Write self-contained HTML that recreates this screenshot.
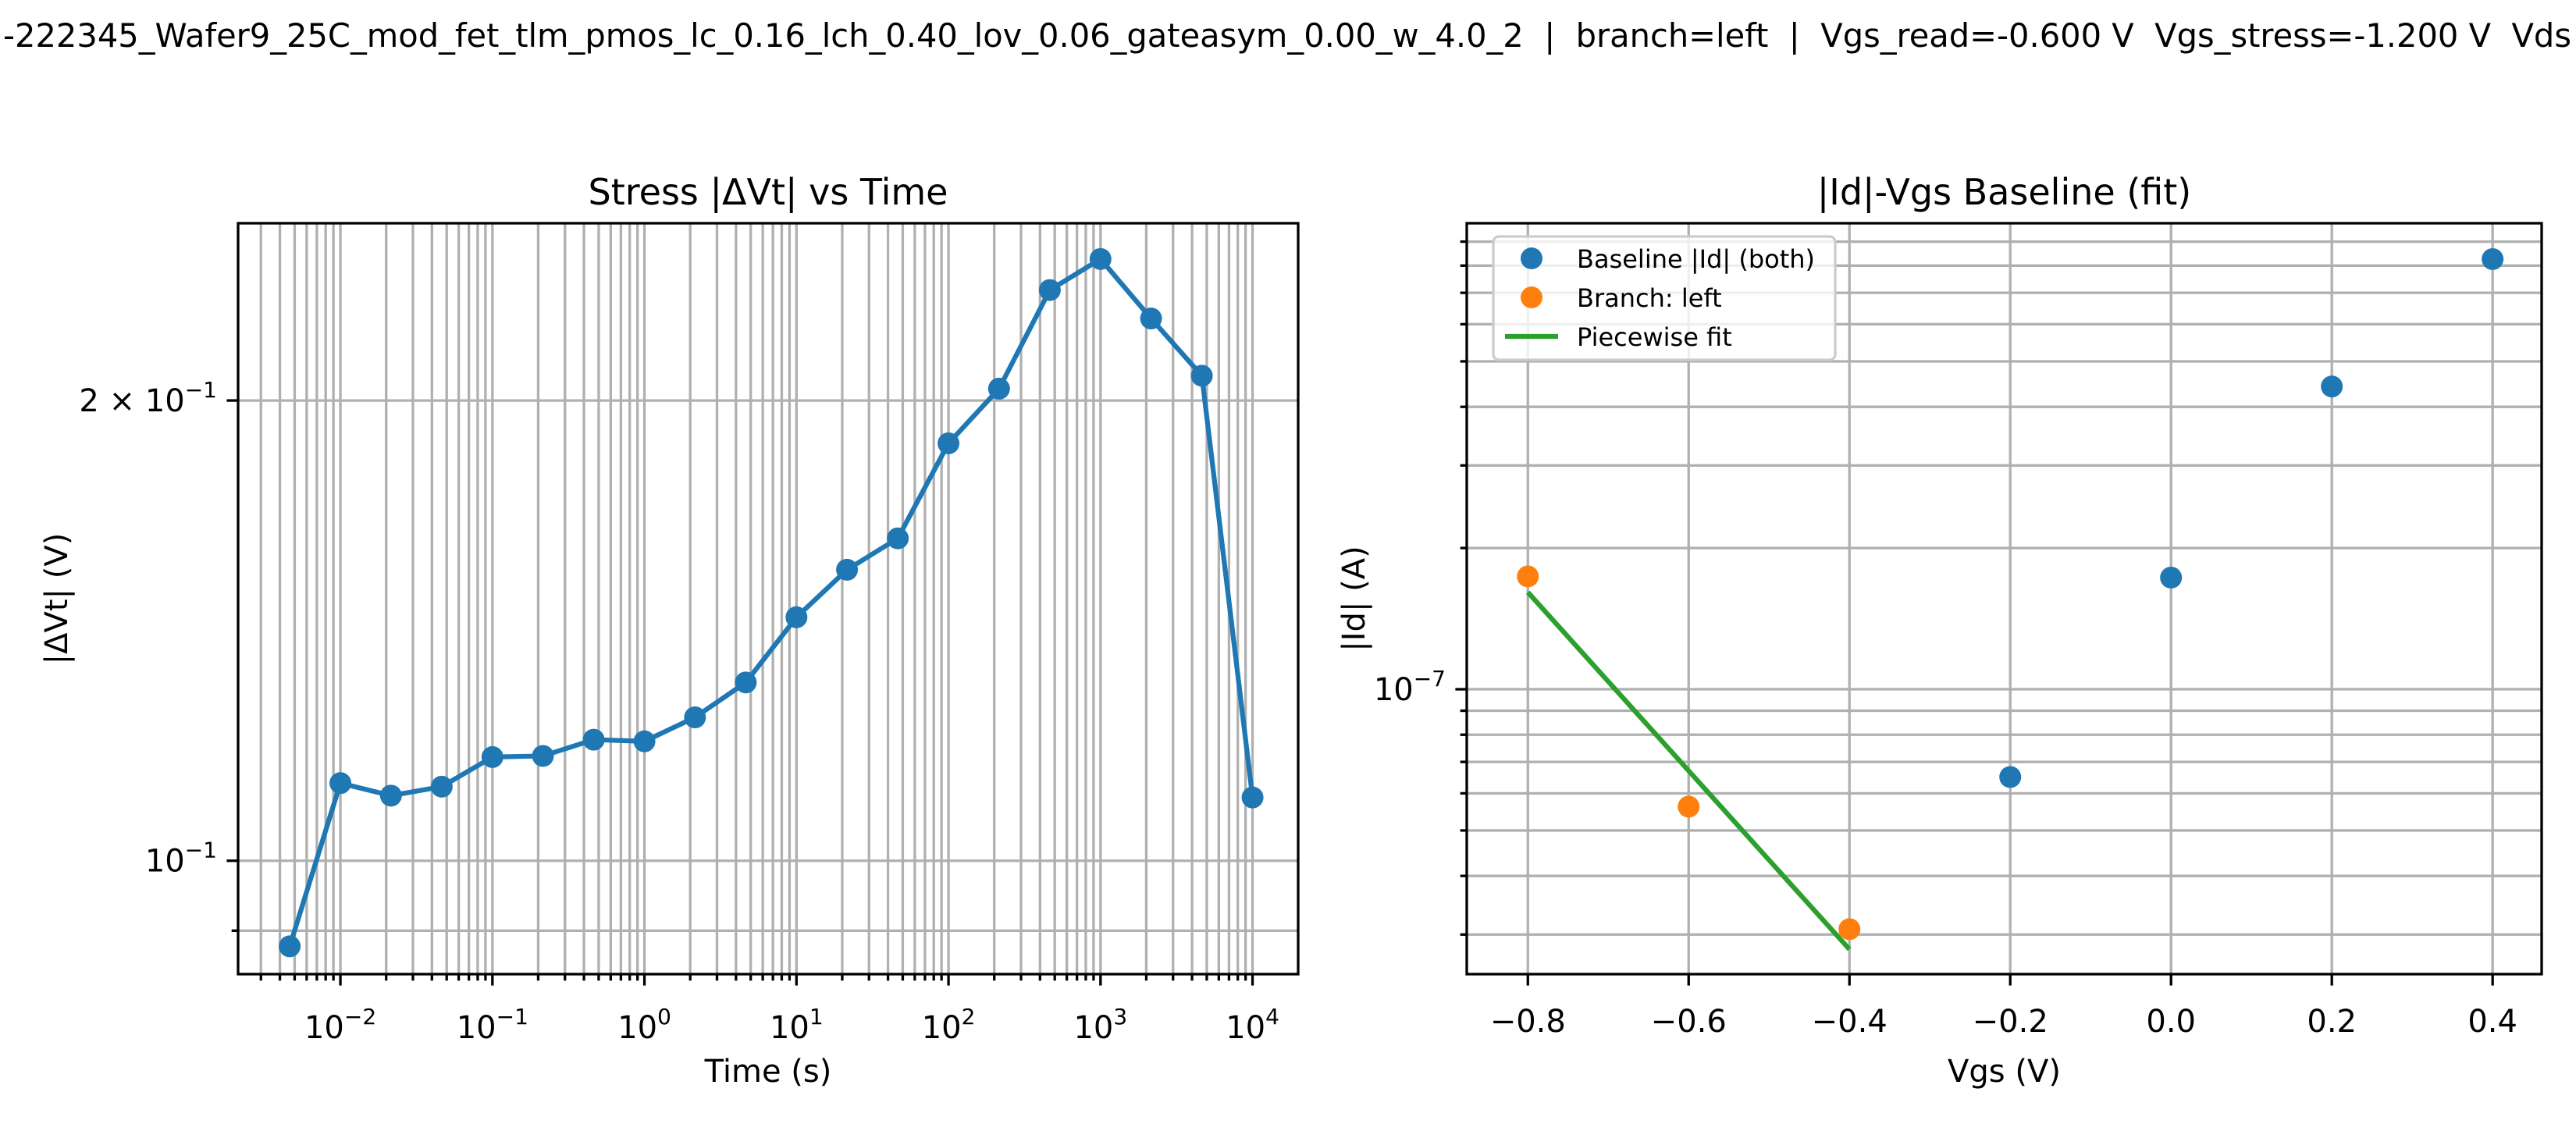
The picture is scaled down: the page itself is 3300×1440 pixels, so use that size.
<!DOCTYPE html>
<html><head><meta charset="utf-8"><style>html,body{margin:0;padding:0;background:#fff;}svg{display:block;}</style></head>
<body>
<svg id="fig" xmlns="http://www.w3.org/2000/svg" width="3300" height="1440" viewBox="0 0 3300 1440" font-family="DejaVu Sans, Liberation Sans, sans-serif">
<rect width="3300" height="1440" fill="#fff"/>
<text x="4" y="60" font-size="42" textLength="3290" lengthAdjust="spacingAndGlyphs" style="white-space:pre" xml:space="preserve">-222345_Wafer9_25C_mod_fet_tlm_pmos_lc_0.16_lch_0.40_lov_0.06_gateasym_0.00_w_4.0_2  |  branch=left  |  Vgs_read=-0.600 V  Vgs_stress=-1.200 V  Vds</text>
<g id="left"></g>
<g id="right"></g>
</svg>
<script>
// ---- Left chart data ----
const stressTimes = [0.00464, 0.01, 0.0215, 0.0464, 0.1, 0.215, 0.464, 1, 2.15, 4.64, 10, 21.5, 46.4, 100, 215, 464, 1000, 2150, 4640, 10000];
const dvtValues = [0.0879, 0.1124, 0.1103, 0.1118, 0.1169, 0.1171, 0.1200, 0.1197, 0.1241, 0.1308, 0.1443, 0.1550, 0.1625, 0.1875, 0.2036, 0.2362, 0.2475, 0.2263, 0.2076, 0.1100];
const leftXDecades = [-2, -1, 0, 1, 2, 3, 4];
const leftYMajor = [0.1, 0.2];
const leftYMajorLabels = [["10", "−1"], ["2 × 10", "−1"]];
const leftYMinor = [0.09];
// ---- Right chart data ----
const baseVgs = [-0.2, 0.0, 0.2, 0.4];
const baseId = [6.5e-8, 1.73e-7, 4.42e-7, 8.26e-7];
const branchVgs = [-0.8, -0.6, -0.4];
const branchId = [1.74e-7, 5.62e-8, 3.08e-8];
const fitVgs = [-0.8, -0.4];
const fitId = [1.61e-7, 2.79e-8];
const rightXTicks = [-0.8, -0.6, -0.4, -0.2, 0.0, 0.2, 0.4];
const rightXLabels = ["−0.8", "−0.6", "−0.4", "−0.2", "0.0", "0.2", "0.4"];
const rightYMinor = [3e-8, 4e-8, 5e-8, 6e-8, 7e-8, 8e-8, 9e-8, 2e-7, 3e-7, 4e-7, 5e-7, 6e-7, 7e-7, 8e-7, 9e-7];

const NS = "http://www.w3.org/2000/svg";
function mk(parent, tag, attrs, text) {
  const e = document.createElementNS(NS, tag);
  for (const k in attrs) e.setAttribute(k, attrs[k]);
  if (text !== undefined) e.textContent = text;
  parent.appendChild(e);
  return e;
}
const GRID = "#b0b0b0", BLUE = "#1f77b4", ORANGE = "#ff7f0e", GREEN = "#2ca02c";
const MR = 14;

// ---------- LEFT ----------
const L = {x0: 305, x1: 1663, y0: 286, y1: 1248, lx0: -2.673, lx1: 4.30, ly0: Math.log10(0.0843), ly1: Math.log10(0.2612)};
function xL(t) { return L.x0 + (Math.log10(t) - L.lx0) / (L.lx1 - L.lx0) * (L.x1 - L.x0); }
function yL(v) { return L.y0 + (L.ly1 - Math.log10(v)) / (L.ly1 - L.ly0) * (L.y1 - L.y0); }
const gl = document.getElementById('left');
for (let d = -3; d <= 4; d++) {
  for (let s = 1; s <= 9; s++) {
    const t = s * Math.pow(10, d);
    const lx = Math.log10(t);
    if (lx < L.lx0 || lx > L.lx1) continue;
    const x = xL(t);
    const g = mk(gl, 'line', {x1: x, x2: x, y1: L.y0, y2: L.y1, stroke: GRID, 'stroke-width': 3.3});
    
    
    const tk = mk(gl, 'line', {x1: x, x2: x, y1: L.y1, y2: L.y1 + (s === 1 ? 14.6 : 8.3), stroke: '#000', 'stroke-width': 3.3});
    
    
  }
}
leftYMajor.concat(leftYMinor).forEach((v, i) => {
  const y = yL(v);
  const g = mk(gl, 'line', {x1: L.x0, x2: L.x1, y1: y, y2: y, stroke: GRID, 'stroke-width': 3.3});
  
  
  const tk = mk(gl, 'line', {x1: L.x0 - (i < leftYMajor.length ? 14.6 : 8.3), x2: L.x0, y1: y, y2: y, stroke: '#000', 'stroke-width': 3.3});
  
  
});
leftXDecades.forEach(d => {
  const x = xL(Math.pow(10, d));
  const t = mk(gl, 'text', {x: x, y: 1330, 'font-size': 40, 'text-anchor': 'middle'});
  
  
  mk(t, 'tspan', {}, '10');
  mk(t, 'tspan', {dy: -18, 'font-size': 28}, d < 0 ? '−' + (-d) : String(d));
});
leftYMajor.forEach((v, i) => {
  const y = yL(v);
  const t = mk(gl, 'text', {x: 278, y: y + 14, 'font-size': 40, 'text-anchor': 'end'});
  
  
  mk(t, 'tspan', {}, leftYMajorLabels[i][0]);
  mk(t, 'tspan', {dy: -18, 'font-size': 28}, leftYMajorLabels[i][1]);
});
const pts = stressTimes.map((t, i) => xL(t) + ',' + yL(dvtValues[i])).join(' ');
const ln = mk(gl, 'polyline', {points: pts, fill: 'none', stroke: BLUE, 'stroke-width': 6.25, 'stroke-linejoin': 'round'});


stressTimes.forEach((t, i) => {
  const c = mk(gl, 'circle', {cx: xL(t), cy: yL(dvtValues[i]), r: MR, fill: BLUE});
  
  
});
const fr = mk(gl, 'rect', {x: L.x0, y: L.y0, width: L.x1 - L.x0, height: L.y1 - L.y0, fill: 'none', stroke: '#000', 'stroke-width': 3.3});


let tt = mk(gl, 'text', {x: (L.x0 + L.x1) / 2, y: 262, 'font-size': 46, 'text-anchor': 'middle'}, 'Stress |ΔVt| vs Time');


tt = mk(gl, 'text', {x: (L.x0 + L.x1) / 2, y: 1386, 'font-size': 40, 'text-anchor': 'middle'}, 'Time (s)');


tt = mk(gl, 'text', {x: 0, y: 0, 'font-size': 40, 'text-anchor': 'middle', transform: 'translate(86,767) rotate(-90)'}, '|ΔVt| (V)');



// ---------- RIGHT ----------
const R = {x0: 1879, x1: 3256, y0: 286, y1: 1248, vx0: -0.876, vx1: 0.461, ly0: Math.log10(2.47e-8), ly1: Math.log10(9.85e-7)};
function xR(v) { return R.x0 + (v - R.vx0) / (R.vx1 - R.vx0) * (R.x1 - R.x0); }
function yR(i) { return R.y0 + (R.ly1 - Math.log10(i)) / (R.ly1 - R.ly0) * (R.y1 - R.y0); }
const gr = document.getElementById('right');
rightXTicks.forEach((v, i) => {
  const x = xR(v);
  let g = mk(gr, 'line', {x1: x, x2: x, y1: R.y0, y2: R.y1, stroke: GRID, 'stroke-width': 3.3});
  
  
  g = mk(gr, 'line', {x1: x, x2: x, y1: R.y1, y2: R.y1 + 14.6, stroke: '#000', 'stroke-width': 3.3});
  
  
  const t = mk(gr, 'text', {x: x, y: 1322, 'font-size': 40, 'text-anchor': 'middle'}, rightXLabels[i]);
  
  
});
[1e-7].concat(rightYMinor).forEach((v, i) => {
  const y = yR(v);
  let g = mk(gr, 'line', {x1: R.x0, x2: R.x1, y1: y, y2: y, stroke: GRID, 'stroke-width': 3.3});
  
  
  g = mk(gr, 'line', {x1: R.x0 - (i === 0 ? 14.6 : 8.3), x2: R.x0, y1: y, y2: y, stroke: '#000', 'stroke-width': 3.3});
  
  
});
let yt = mk(gr, 'text', {x: 1852, y: yR(1e-7) + 14, 'font-size': 40, 'text-anchor': 'end'});


mk(yt, 'tspan', {}, '10');
mk(yt, 'tspan', {dy: -18, 'font-size': 28}, '−7');
const fp = fitVgs.map((v, i) => xR(v) + ',' + yR(fitId[i])).join(' ');
const fl = mk(gr, 'polyline', {points: fp, fill: 'none', stroke: GREEN, 'stroke-width': 6.25});


baseVgs.forEach((v, i) => {
  const c = mk(gr, 'circle', {cx: xR(v), cy: yR(baseId[i]), r: MR, fill: BLUE});
  
  
});
branchVgs.forEach((v, i) => {
  const c = mk(gr, 'circle', {cx: xR(v), cy: yR(branchId[i]), r: MR, fill: ORANGE});
  
  
});
const fr2 = mk(gr, 'rect', {x: R.x0, y: R.y0, width: R.x1 - R.x0, height: R.y1 - R.y0, fill: 'none', stroke: '#000', 'stroke-width': 3.3});


const lg = mk(gr, 'g', {});


mk(lg, 'rect', {x: 1913, y: 303, width: 438, height: 158, rx: 7, fill: 'rgba(255,255,255,0.8)', stroke: '#cccccc', 'stroke-width': 3.3});
const legItems = [["Baseline |Id| (both)", BLUE, 'dot'], ["Branch: left", ORANGE, 'dot'], ["Piecewise fit", GREEN, 'line']];
legItems.forEach((it, i) => {
  const y = 331 + i * 50;
  const e = mk(lg, 'g', {});
  
  
  if (it[2] === 'dot') mk(e, 'circle', {cx: 1962, cy: y, r: MR, fill: it[1]});
  else mk(e, 'line', {x1: 1928, x2: 1996, y1: y, y2: y, stroke: it[1], 'stroke-width': 6.25});
  mk(e, 'text', {x: 2020, y: y + 12, 'font-size': 32}, it[0]);
});
tt = mk(gr, 'text', {x: (R.x0 + R.x1) / 2, y: 262, 'font-size': 46, 'text-anchor': 'middle'}, '|Id|-Vgs Baseline (fit)');


tt = mk(gr, 'text', {x: (R.x0 + R.x1) / 2, y: 1386, 'font-size': 40, 'text-anchor': 'middle'}, 'Vgs (V)');


tt = mk(gr, 'text', {x: 0, y: 0, 'font-size': 40, 'text-anchor': 'middle', transform: 'translate(1748,767) rotate(-90)'}, '|Id| (A)');


</script>
</body></html>
